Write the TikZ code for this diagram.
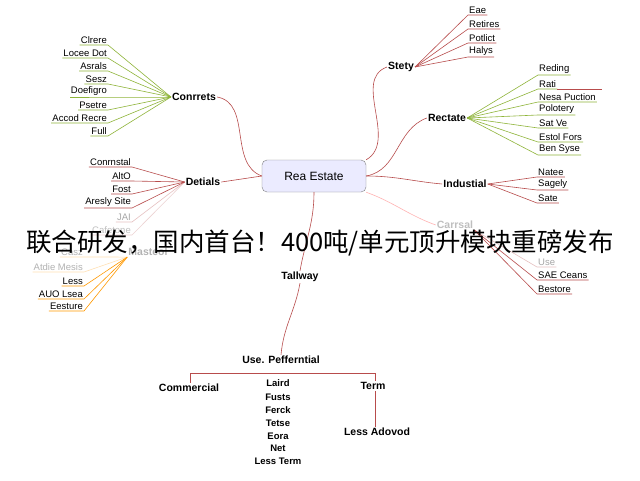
\documentclass[tikz,border=0pt]{standalone}
\usepackage{fontspec}
\setmainfont{Liberation Sans}
\newfontfamily\cjk{Noto Sans CJK SC}
\begin{document}
\begin{tikzpicture}[x=1pt,y=-1pt,
  hub/.style={font=\fontsize{10.5}{12}\selectfont\bfseries, inner sep=1pt},
  leaf/.style={font=\fontsize{9.5}{11}\selectfont, inner sep=1pt},
  lf/.style={leaf, text=black!#1},
  lk/.style={line width=0.6pt},
  green/.style={lk, draw=yellow!60!green!80!black},
  redl/.style={lk, draw=red!60!black!70},
  orng/.style={lk, draw=orange!80!yellow},
  faint/.style={lk, draw=red!30!white}]
\useasboundingbox (0,0) rectangle (640,480);
\fill[white] (0,0) rectangle (640,480);
\node[draw=gray, fill=blue!8, rounded corners=5pt, minimum width=104, minimum height=32, font=\fontsize{12}{14}\selectfont] (c) at (314,176) {Rea Estate};
\node[hub] (con) at (194,97) {Conrrets};
\node[hub] (det) at (203,182) {Detials};
\node[hub] (sty) at (401,67) {Stety};
\node[hub] (rec) at (447,118) {Rectate};
\node[hub] (ind) at (465,184) {Industial};
\node[hub, text=black!25] (car) at (455,225) {Carrsal};
\node[hub, text=black!30] (mas) at (148,252) {Masteol};
\node[hub] (tal) at (300,277) {Tallway};
\node[hub] (use) at (281,360) {Use. Pefferntial};
\draw[redl] (con.east) to[out=-10,in=160] (c.west);
\draw[redl] (det.east) -- (c.west);
\draw[redl] (c.north east) to[out=30,in=200] (sty.west);
\draw[redl] (c.east) to[out=10,in=200] (rec.west);
\draw[redl] (c.east) to[out=0,in=175] (ind.west);
\draw[faint] (c.south east) to[out=-20,in=160] (car.west);
\draw[redl] (c.south) to[out=-90,in=80] (tal.north);
\draw[redl] (tal.south) to[out=-100,in=85] (use.north);
\foreach \t/\y [count=\i] in {Clrere/40,Locee Dot/53,Asrals/66,Sesz/79,Doefigro/92,Psetre/105,Accod Recre/118,Full/131}{
  \node[leaf, anchor=south east] (a\i) at (108,\y+5) {\t};
  \draw[green] (con.west) -- (a\i.south east) -- (a\i.south west);}
\foreach \t/\y/\k [count=\i] in {Conrnstal/162/100,AltO/176/100,Fost/189/100,Aresly Site/203/100,JAI/217/35,Cafetone/230/25}{
  \node[lf=\k, anchor=south east] (b\i) at (132,\y+5) {\t};
  \draw[redl, draw opacity=\k/100] (det.west) -- (b\i.south east) -- (b\i.south west);}
\foreach \t/\y/\k [count=\i] in {Casz/252/30,Atdie Mesis/267/30,Less/281/100,AUO Lsea/294/100,Eesture/306/100}{
  \node[lf=\k, anchor=south east] (m\i) at (84,\y+5) {\t};
  \draw[orng, draw opacity=\k/100] (mas.south west) -- (m\i.south east) -- (m\i.south west);}
\foreach \t/\y [count=\i] in {Eae/10,Retires/24,Potlict/38,Halys/52}{
  \node[leaf, anchor=south west] (s\i) at (468,\y+5) {\t};
  \draw[redl] (sty.east) -- (s\i.south west) -- (s\i.south east);}
\foreach \t/\y [count=\i] in {Reding/70,Rati/84,Nesa Puction/97,Polotery/110,Sat Ve/123,Estol Fors/137,Ben Syse/150}{
  \node[leaf, anchor=south west] (r\i) at (538,\y+5) {\t};
  \draw[green] (rec.east) -- (r\i.south west) -- (r\i.south east);}
\draw[redl] (r2.south east) -- ++(45,0);
\foreach \t/\y [count=\i] in {Natee/172,Sagely/185,Sate/198}{
  \node[leaf, anchor=south west] (n\i) at (537,\y+5) {\t};
  \draw[redl] (ind.east) -- (n\i.south west) -- (n\i.south east);}
\foreach \t/\y/\k [count=\i] in {Use/262/35,SAE Ceans/275/100,Bestore/289/100}{
  \node[lf=\k, anchor=south west] (u\i) at (537,\y+5) {\t};
  \draw[redl, draw opacity=\k/100] (car.south east) -- (u\i.south west) -- (u\i.south east);}
\node[hub] (com) at (189,388) {Commercial};
\node[hub] (term) at (373,386) {Term};
\node[hub] (lad) at (377,432) {Less Adovod};
\coordinate (hl) at (190,373); \coordinate (hr) at (375,373);
\draw[redl] (hl) -- (hr);
\draw[redl] (hl) -- (com.north -| hl);
\draw[redl] (hr) -- (term.north -| hr);
\draw[redl] (term.south -| hr) -- (lad.north -| hr);
\foreach \t/\y [count=\i] in {Laird/383,Fusts/397,Ferck/410,Tetse/423,Eora/436,Net/448,Less Term/461}{
  \node[leaf, font=\fontsize{9.5}{11}\selectfont\bfseries] (w\i) at (278,\y) {\t};}
\node[font=\cjk\fontsize{25.5}{28}\selectfont, inner sep=0] (cap) at (320,243) {联合研发，国内首台！400吨/单元顶升模块重磅发布};
\end{tikzpicture}
\end{document}
